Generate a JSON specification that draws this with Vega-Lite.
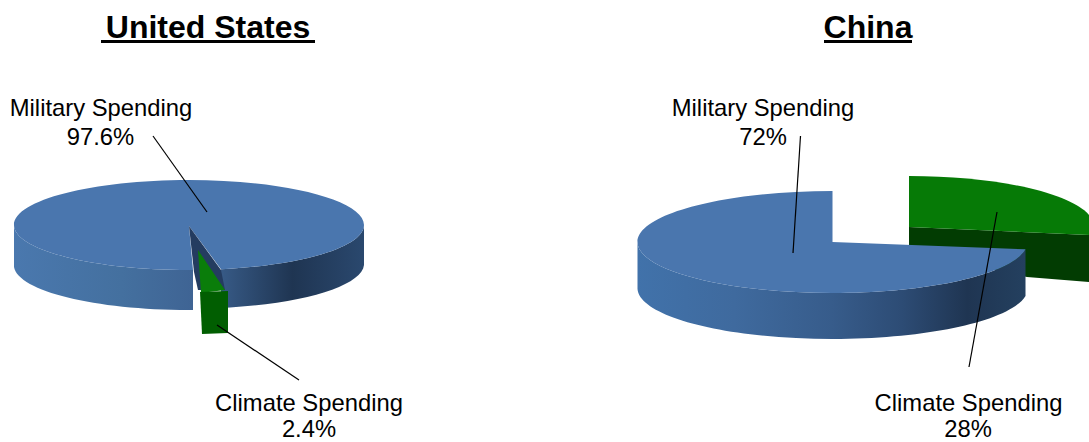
{"$schema":"https://vega.github.io/schema/vega-lite/v6.json","width":1089,"height":442,"padding":0,"autosize":"none","background":"white","config":{"view":{"stroke":null}},
"datasets":{
"faces":[
{"country":"China","slice":"Climate Spending","share":28,"face":"china climate side","x":909,"y":227},
{"country":"China","slice":"Climate Spending","share":28,"face":"china climate top","x":909,"y":227},
{"country":"China","slice":"Military Spending","share":72,"face":"china military side","x":832.5,"y":242},
{"country":"China","slice":"Military Spending","share":72,"face":"china military top","x":832.5,"y":242},
{"country":"United States","slice":"Military Spending","share":97.6,"face":"us military side left","x":189,"y":225},
{"country":"United States","slice":"Military Spending","share":97.6,"face":"us military side right","x":189,"y":225},
{"country":"United States","slice":"Military Spending","share":97.6,"face":"us military top","x":189,"y":225},
{"country":"United States","slice":"Military Spending","share":97.6,"face":"us notch wall","x":189,"y":225},
{"country":"United States","slice":"Climate Spending","share":2.4,"face":"us climate top","x":189,"y":225},
{"country":"United States","slice":"Climate Spending","share":2.4,"face":"us climate side","x":189,"y":225}
],
"leaders":[
{"slice":"US military","x":153,"y":136,"x2":207,"y2":212},
{"slice":"US climate","x":217,"y":325,"x2":299,"y2":380},
{"slice":"China military","x":800.5,"y":136,"x2":793,"y2":253},
{"slice":"China climate","x":997,"y":212,"x2":969,"y2":367}
],
"labels":[
{"text":"Military Spending","x":101,"y":116},
{"text":"97.6%","x":100.5,"y":145},
{"text":"Climate Spending","x":309,"y":411},
{"text":"2.4%","x":309,"y":436.9},
{"text":"Military Spending","x":763,"y":116},
{"text":"72%","x":763,"y":145},
{"text":"Climate Spending","x":968.5,"y":411},
{"text":"28%","x":968,"y":436.9}
],
"titles":[
{"text":"United States","x":208,"y":38,"x1":101,"x2":315},
{"text":"China","x":868,"y":38,"x1":824,"x2":912}
]},
"layer":[
{"data":{"name":"faces"},
"encoding":{
"x":{"field":"x","type":"quantitative","scale":{"domain":[0,1089]},"axis":null},
"y":{"field":"y","type":"quantitative","scale":{"domain":[442,0]},"axis":null},
"shape":{"field":"face","type":"nominal","legend":null,"scale":{
"domain":["china climate side","china climate top","china military side","china military top","us military side left","us military side right","us military top","us notch wall","us climate top","us climate side"],
"range":[
"M0,0 L180,8 L180,55 L118,50 L0,25 Z",
"M0,0 L0,-51 A185,51 0 0 1 180,-12 L180,8 Z",
"M-195,0 A195,51 0 0 0 0,51 A195,51 0 0 0 193,7.3 L193,54 A195,51 0 0 1 0,97 A195,51 0 0 1 -195,47 Z",
"M0,-51 L0,0 L193,7.3 A195,51 0 0 1 0,51 A195,51 0 0 1 -195,0 A195,51 0 0 1 0,-51 Z",
"M-175,0 A175,45 0 0 0 4,45 L4,85 A175,45 0 0 1 -175,42 Z",
"M32,44.2 A175,45 0 0 0 175,0 L175,40 A175,45 0 0 1 32,83 Z",
"M0,1 L32,44.2 A175,45 0 0 0 175,0 A175,45 0 0 0 -175,0 A175,45 0 0 0 4,45 Z",
"M0,1 L32,45 L36,65 L9,65 L5,47 Z",
"M9,25 L36,65 L12,68 Z",
"M11,67 L39,66 L39,108 L13,109 Z"
]}},
"color":{"field":"face","type":"nominal","legend":null,"scale":{
"domain":["china climate side","china climate top","china military top","us military top","us notch wall","us climate top","us climate side"],
"range":["#023c02","#067a06","#4a76ae","#4a76ae","#243c60","#0a7d0a","#015e01"]}}
},
"layer":[
{"transform":[{"filter":"datum.face=='china climate side'||datum.face=='china climate top'"}],"mark":{"type":"point","filled":true,"size":4,"opacity":1}},
{"transform":[{"filter":"datum.face=='china military side'"}],"mark":{"type":"point","filled":true,"size":4,"opacity":1,"fill":{"gradient":"linear","x1":0,"y1":0,"x2":1,"y2":0,"stops":[{"offset":0,"color":"#4172aa"},{"offset":0.25,"color":"#3f6a9e"},{"offset":0.5,"color":"#375c8b"},{"offset":0.68,"color":"#2d4c75"},{"offset":0.85,"color":"#1f3552"},{"offset":1,"color":"#24405f"}]}},"encoding":{"color":{"value":null}}},
{"transform":[{"filter":"datum.face=='us military side left'"}],"mark":{"type":"point","filled":true,"size":4,"opacity":1,"fill":{"gradient":"linear","x1":0,"y1":0,"x2":1,"y2":0,"stops":[{"offset":0,"color":"#4a78ae"},{"offset":0.6,"color":"#44709f"},{"offset":1,"color":"#3f6494"}]}},"encoding":{"color":{"value":null}}},
{"transform":[{"filter":"datum.face=='us military side right'"}],"mark":{"type":"point","filled":true,"size":4,"opacity":1,"fill":{"gradient":"linear","x1":0,"y1":0,"x2":1,"y2":0,"stops":[{"offset":0,"color":"#375a86"},{"offset":0.5,"color":"#1f3552"},{"offset":1,"color":"#2a486e"}]}},"encoding":{"color":{"value":null}}},
{"transform":[{"filter":"datum.face=='china military top'||datum.face=='us military top'||datum.face=='us notch wall'||datum.face=='us climate top'||datum.face=='us climate side'"}],"mark":{"type":"point","filled":true,"size":4,"opacity":1}}
]},
{"data":{"name":"leaders"},"mark":{"type":"rule","color":"#000000","strokeWidth":1.2},"encoding":{
"x":{"field":"x","type":"quantitative","scale":{"domain":[0,1089]},"axis":null},
"y":{"field":"y","type":"quantitative","scale":{"domain":[442,0]},"axis":null},
"x2":{"field":"x2"},"y2":{"field":"y2"}}},
{"data":{"name":"labels"},"mark":{"type":"text","font":"Liberation Sans","fontSize":23.8,"color":"#000000","align":"center","baseline":"alphabetic"},"encoding":{
"x":{"field":"x","type":"quantitative","scale":{"domain":[0,1089]},"axis":null},
"y":{"field":"y","type":"quantitative","scale":{"domain":[442,0]},"axis":null},
"text":{"field":"text"}}},
{"data":{"name":"titles"},"mark":{"type":"text","font":"Liberation Sans","fontSize":32,"fontWeight":"bold","color":"#000000","align":"center","baseline":"alphabetic"},"encoding":{
"x":{"field":"x","type":"quantitative","scale":{"domain":[0,1089]},"axis":null},
"y":{"field":"y","type":"quantitative","scale":{"domain":[442,0]},"axis":null},
"text":{"field":"text"}}},
{"data":{"name":"titles"},"mark":{"type":"rule","color":"#000000","strokeWidth":3},"encoding":{
"x":{"field":"x1","type":"quantitative","scale":{"domain":[0,1089]},"axis":null},
"x2":{"field":"x2"},
"y":{"datum":41.5,"type":"quantitative","scale":{"domain":[442,0]},"axis":null}}}
]}
